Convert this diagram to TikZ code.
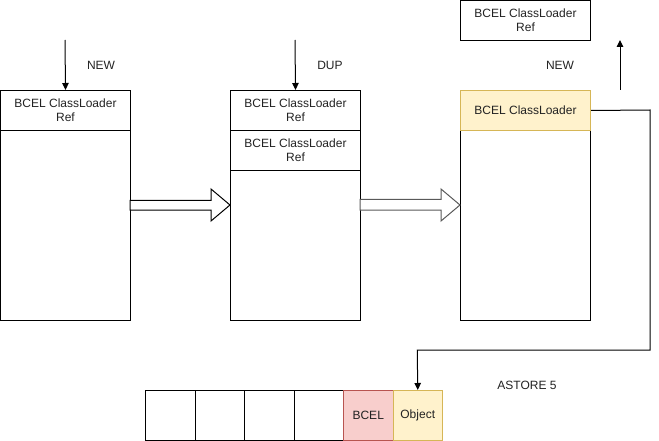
\documentclass[tikz,border=0pt]{standalone}
\usepackage{fontspec}
\setmainfont{Liberation Sans}
\usetikzlibrary{arrows.meta,shapes.arrows}
\definecolor{yfill}{HTML}{FFF2CC}
\definecolor{ydraw}{HTML}{D6B656}
\definecolor{rfill}{HTML}{F8CECC}
\definecolor{rdraw}{HTML}{B85450}
\definecolor{txt}{HTML}{222222}
\begin{document}
\begin{tikzpicture}[x=1pt,y=-1pt,
  font=\fontsize{12}{14}\selectfont,
  every node/.style={text=txt},
  cell/.style={draw=black,line width=1pt,minimum width=130pt,minimum height=40pt,inner sep=0pt,align=center,anchor=north west},
  stackbox/.style={draw=black,line width=1pt},
  arr/.style={-{Triangle[length=7pt,width=6.5pt]},line width=1pt},
  lbl/.style={inner sep=0pt,anchor=center},
  slot/.style={draw=black,line width=1pt,minimum width=49.5pt,minimum height=50pt,inner sep=0pt,anchor=north west},
  big/.style={draw=black,line width=1pt,fill=white}
]
\useasboundingbox (0,0) rectangle (659,441);
% stack 1
\node[stackbox,minimum width=130pt,minimum height=230pt,anchor=north west,inner sep=0pt] (s1) at (0,90) {};
\node[cell] (s1a) at (0,90) {BCEL ClassLoader\\Ref};
\coordinate (t1) at (65,40);
\draw[arr] (t1) -- (s1a.north);
\node[lbl] (n1) at (101,65) {NEW};
% stack 2
\node[stackbox,minimum width=130pt,minimum height=230pt,anchor=north west,inner sep=0pt] (s2) at (230,90) {};
\node[cell] (s2a) at (230,90) {BCEL ClassLoader\\Ref};
\node[cell] (s2b) at (230,130) {BCEL ClassLoader\\Ref};
\coordinate (t2) at (295,40);
\draw[arr] (t2) -- (s2a.north);
\node[lbl] (n2) at (330,65) {DUP};
% stack 3
\node[stackbox,minimum width=130pt,minimum height=230pt,anchor=north west,inner sep=0pt] (s3) at (460,90) {};
\node[cell,fill=yfill,draw=ydraw] (s3a) at (460,90) {BCEL ClassLoader};
\node[cell] (top) at (460,0) {BCEL ClassLoader\\Ref};
\coordinate (u1) at (620,90);
\coordinate (u2) at (620,40);
\draw[arr] (u1) -- (u2);
\node[lbl] (n3) at (560,65) {NEW};
% block arrows
\draw[big] (130,200.5) -- (211,200.5) -- (211,189) -- (230,205) -- (211,221) -- (211,210) -- (130,210) -- cycle;
\draw[big,draw=black!65] (360,199.5) -- (441,199.5) -- (441,189) -- (460,205) -- (441,221) -- (441,210) -- (360,210) -- cycle;
% locals
\node[slot] (l0) at (145,390) {};
\node[slot] (l1) at (194.5,390) {};
\node[slot] (l2) at (244,390) {};
\node[slot] (l3) at (293.5,390) {};
\node[slot,fill=rfill,draw=rdraw] (l4) at (343,390) {BCEL};
\node[slot,fill=yfill,draw=ydraw] (l5) at (392.5,390) {Object};
\node[lbl] (n4) at (527,385) {ASTORE 5};
% connector
\draw[arr] (s3a.east) -- (650,110) -- (650,350) -- (417.25,350) -- (l5.north);
\end{tikzpicture}
\end{document}
